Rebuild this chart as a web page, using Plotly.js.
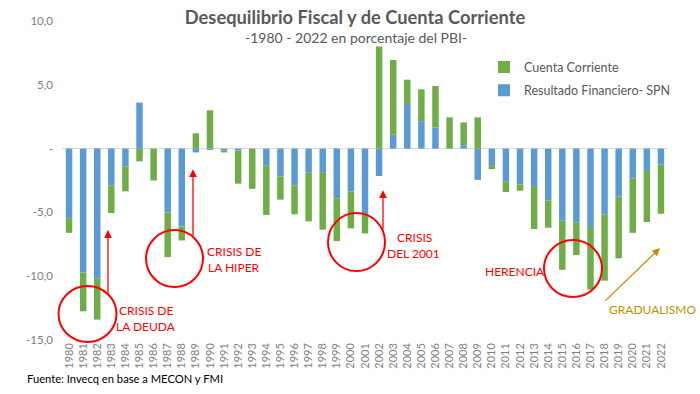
<!DOCTYPE html>
<html>
<head>
<meta charset="utf-8">
<script src="https://cdn.plot.ly/plotly-3.0.1.min.js"></script>
<style>html,body{margin:0;padding:0;background:#fff;}#chart{width:700px;height:394px;}</style>
</head>
<body>
<div id="chart"></div>
<script>
// ---- Data ----
const years = ["1980","1981","1982","1983","1984","1985","1986","1987","1988","1989","1990","1991","1992","1993","1994","1995","1996","1997","1998","1999","2000","2001","2002","2003","2004","2005","2006","2007","2008","2009","2010","2011","2012","2013","2014","2015","2016","2017","2018","2019","2020","2021","2022"];
const resultadoFinanciero = [-5.5,-9.7,-10.2,-2.9,-1.4,3.6,0,-5.0,-6.1,-0.3,-0.1,-0.15,-0.15,0,-1.3,-2.2,-2.9,-1.9,-1.9,-3.9,-3.35,-5.2,-2.15,1.1,3.5,2.15,1.65,0,0.25,-2.45,-1.3,-2.6,-2.8,-3.0,-4.05,-5.65,-5.8,-6.15,-5.15,-3.75,-2.35,-1.75,-1.25];
const cuentaCorriente = [-1.1,-3.05,-3.2,-2.15,-1.95,-1.0,-2.5,-3.5,-1.1,1.2,3.0,-0.15,-2.6,-3.15,-3.9,-1.8,-2.25,-3.8,-4.45,-3.35,-2.9,-1.45,8.0,5.85,1.9,2.5,3.25,2.45,1.8,2.45,-0.3,-0.8,-0.5,-3.3,-2.15,-3.85,-2.55,-4.9,-5.2,-4.85,-4.25,-4.0,-3.85];
const yTickVals = [10,5,0,-5,-10,-15];
const yTickText = ["10,0","5,0","-","-5,0","-10,0","-15,0"];

// ---- Layout helpers (pixel -> paper) ----
const L = 62, R = 668, T = 20.7, B = 340;
const px = x => (x - L) / (R - L);
const py = y => (B - y) / (B - T);

const FONT = "Lato, 'Open Sans', sans-serif";
const RED = "#FF0000", GOLD = "#BF9000";

const traces = [
  {type:"bar", name:"Resultado Financiero- SPN", x:years, y:resultadoFinanciero,
   marker:{color:"#5B9BD5"}, legendgroup:"b", legendrank:2, hoverinfo:"x+y"},
  {type:"bar", name:"Cuenta Corriente", x:years, y:cuentaCorriente,
   marker:{color:"#70AD47"}, legendgroup:"a", legendrank:1, hoverinfo:"x+y"}
];

function circle(cx, cy, rx, ry){
  return {type:"circle", xref:"paper", yref:"paper",
    x0:px(cx-rx), x1:px(cx+rx), y0:py(cy+ry), y1:py(cy-ry),
    line:{color:RED, width:2}, fillcolor:"rgba(0,0,0,0)"};
}
function arrow(tipX, tipY, tailX, tailY, color){
  return {xref:"paper", yref:"paper", x:px(tipX), y:py(tipY), text:"",
    showarrow:true, ax:tailX-tipX, ay:tailY-tipY, arrowhead:2, arrowsize:1.2,
    arrowwidth:1.3, arrowcolor:color, standoff:0, startstandoff:0};
}
function label(x, y, text, color){
  return {xref:"paper", yref:"paper", x:px(x), y:py(y), text:text, showarrow:false,
    xanchor:"center", yanchor:"middle", font:{family:FONT, size:12, color:color}, align:"center"};
}

const layout = {
  width:700, height:394,
  margin:{l:L, r:700-R, t:T, b:394-B, pad:0},
  paper_bgcolor:"#fff", plot_bgcolor:"#fff",
  barmode:"relative", bargap:0.54,
  font:{family:FONT, color:"#595959"},
  title:{text:"<b>Desequilibrio Fiscal y de Cuenta Corriente</b>", x:355/700, xref:"container", xanchor:"center",
    y:1-18/394, yref:"container", yanchor:"middle", font:{family:FONT, size:18.3, color:"#595959"}},
  xaxis:{type:"category", tickangle:-90, showline:false, showgrid:false, ticks:"",
    tickfont:{family:FONT, size:11, color:"#7F7F7F"}, automargin:false},
  yaxis:{range:[-15,10], tickvals:yTickVals, ticktext:yTickText, showgrid:false, showline:false,
    zeroline:true, zerolinecolor:"#D9D9D9", zerolinewidth:1, ticks:"", ticklabelstandoff:8,
    tickfont:{family:FONT, size:11.5, color:"#7F7F7F"}, automargin:false},
  showlegend:true,
  legend:{x:px(484), y:py(52), xanchor:"left", yanchor:"top", traceorder:"grouped",
    tracegroupgap:4, font:{family:FONT, size:12.5, color:"#595959"}, itemwidth:30, bgcolor:"rgba(0,0,0,0)"},
  shapes:[
    circle(87.5, 314, 29, 28),
    circle(174.5, 258.5, 28.5, 28.5),
    circle(356.5, 242, 28.5, 29),
    circle(573, 268.5, 29, 28.5)
  ],
  annotations:[
    {xref:"paper", yref:"paper", x:px(356), y:py(37), text:"-1980 - 2022 en porcentaje del PBI-", showarrow:false,
     xanchor:"center", yanchor:"middle", font:{family:FONT, size:14, color:"#595959"}},
    {xref:"paper", yref:"paper", x:px(25), y:py(379), text:"Fuente: Invecq en base a MECON y FMI", showarrow:false,
     xanchor:"left", yanchor:"middle", font:{family:FONT, size:11.2, color:"#000000"}},
    arrow(108, 230, 108, 295, RED),
    arrow(193, 169, 193, 237, RED),
    arrow(383, 190, 383, 231, RED),
    arrow(660, 248, 604, 302, GOLD),
    label(145.5, 310, "CRISIS DE", RED),
    label(145.5, 326, "LA DEUDA", RED),
    label(234, 251, "CRISIS DE", RED),
    label(234, 267, "LA HIPER", RED),
    label(414, 237, "CRISIS", RED),
    label(413.5, 253, "DEL 2001", RED),
    label(514.5, 271, "HERENCIA", RED),
    label(652, 309, "GRADUALISMO", GOLD)
  ]
};

Plotly.newPlot("chart", traces, layout, {displayModeBar:false, staticPlot:true});
</script>
</body>
</html>
